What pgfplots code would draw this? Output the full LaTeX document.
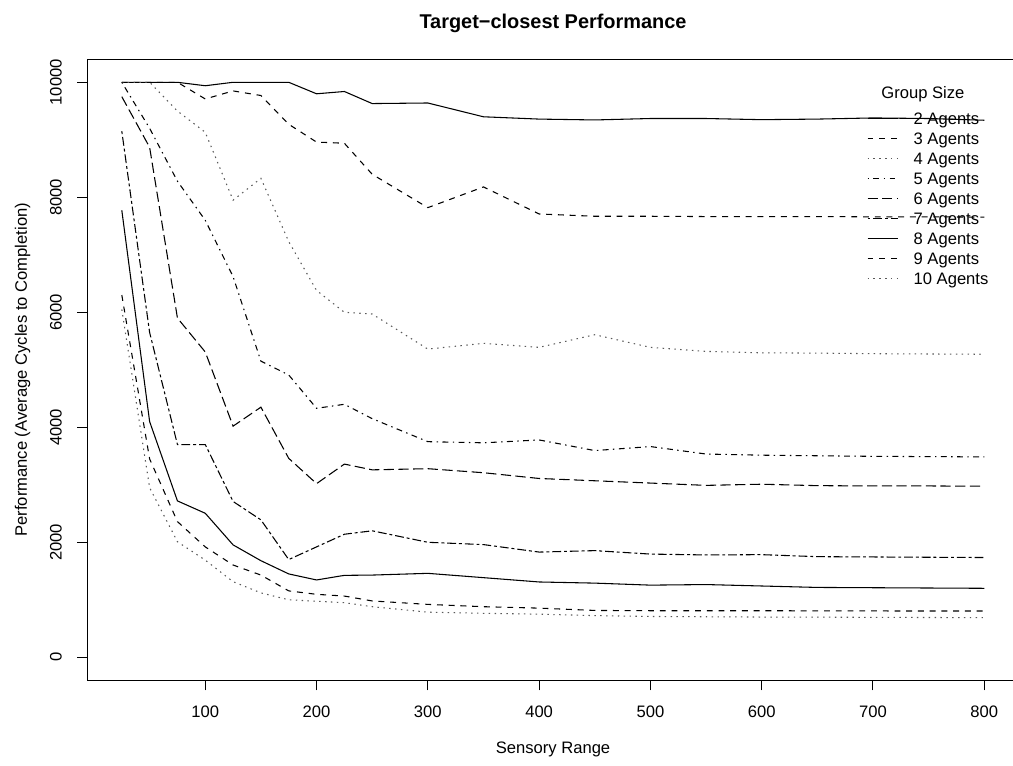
\documentclass[border=0pt]{standalone}
\usepackage{fontspec}
\setmainfont{Liberation Sans}
\usepackage{pgfplots}
\usepackage{pgfplotstable}
\pgfplotsset{compat=1.18}
\pgfplotstableread{
x    a2    a3    a4    a5    a6    a7    a8    a9    a10
25   10000 10000 10000 10000 9750  9150  7775  6300  6050
50   10000 10000 10000 9200  8870  5650  4100  3450  2950
75   10000 10000 9500  8280  5900  3700  2720  2360  2010
100  9940  9710  9130  7600  5310  3700  2505  1920  1690
125  10000 9850  7950  6620  4020  2710  1955  1605  1315
150  10000 9770  8330  5150  4350  2390  1680  1430  1120
175  10000 9270  7230  4910  3460  1700  1450  1155  1000
200  9800  8960  6380  4330  3020  1920  1345  1095  975
225  9840  8940  6000  4400  3360  2140  1425  1065  950
250  9630  8400  5970  4150  3260  2200  1430  980   880
300  9640  7820  5360  3750  3280  2000  1460  920   785
350  9400  8180  5460  3730  3210  1960  1385  880   765
400  9360  7710  5390  3780  3110  1830  1310  855   750
450  9345  7670  5610  3595  3070  1855  1290  815   725
500  9370  7670  5390  3665  3030  1795  1255  810   710
550  9370  7665  5320  3535  2990  1780  1265  810   705
600  9350  7665  5295  3515  3010  1785  1240  810   700
650  9360  7665  5290  3505  2985  1750  1215  808   698
700  9380  7660  5280  3495  2980  1745  1210  806   695
750  9370  7660  5275  3490  2980  1740  1205  805   692
800  9340  7655  5270  3485  2975  1735  1200  805   690
}\data
\newcommand{\basefont}{\fontsize{12.45}{15}\selectfont}
\pgfplotsset{
  lty1/.style={solid},
  lty2/.style={dash pattern=on 4.4pt off 4.4pt},
  lty3/.style={dash pattern=on 1.1pt off 3.3pt, black!65},
  lty4/.style={dash pattern=on 1.1pt off 3.3pt on 4.4pt off 3.3pt},
  lty5/.style={dash pattern=on 7.7pt off 3.3pt},
  lty6/.style={dash pattern=on 2.2pt off 2.2pt on 6.6pt off 2.2pt},
}
\begin{document}
\begin{tikzpicture}[font=\basefont]
\begin{axis}[
  width=698.6pt, height=465.75pt, scale only axis,
  xmin=-6, xmax=831, ymin=-400, ymax=10400,
  xtick={100,200,...,800}, ytick={0,2000,...,10000},
  tick align=outside, xtick pos=left, ytick pos=left,
  major tick length=7.5pt,
  tick style={line width=0.75pt, black},
  axis line style={line width=0.75pt},
  clip=false,
  scaled ticks=false,
  /pgf/number format/1000 sep={},
  /pgf/number format/assume math mode=true,
  tick label style={font=\basefont, inner sep=0pt, outer sep=0pt},
  xticklabel style={anchor=north},
  yticklabel style={rotate=90, anchor=south},
  xticklabel shift=11.6pt, yticklabel shift=11.55pt,
  every axis plot/.append style={line width=0.8pt, black},
  legend cell align=left,
  legend image code/.code={\draw[#1] (0pt,0pt) -- (22.5pt,0pt); \path (34.2pt,0pt);},
  legend style={draw=none, fill=none, inner sep=0pt, outer sep=0pt,
    row sep=0pt, column sep=0pt, font=\basefont,
    nodes={inner sep=0pt, text height=11.95pt, text depth=3.05pt},
    at={(axis cs:694.6,9548)}, anchor=north west},
]
\addplot[lty1] table[x=x,y=a2] {\data};
\addlegendentry{2 Agents}
\addplot[lty2] table[x=x,y=a3] {\data};
\addlegendentry{3 Agents}
\addplot[lty3] table[x=x,y=a4] {\data};
\addlegendentry{4 Agents}
\addplot[lty4] table[x=x,y=a5] {\data};
\addlegendentry{5 Agents}
\addplot[lty5] table[x=x,y=a6] {\data};
\addlegendentry{6 Agents}
\addplot[lty6] table[x=x,y=a7] {\data};
\addlegendentry{7 Agents}
\addplot[lty1] table[x=x,y=a8] {\data};
\addlegendentry{8 Agents}
\addplot[lty2] table[x=x,y=a9] {\data};
\addlegendentry{9 Agents}
\addplot[lty3] table[x=x,y=a10] {\data};
\addlegendentry{10 Agents}
\node[anchor=base, font=\bfseries\fontsize{14.94}{18}\selectfont] at (axis cs:412.5,10936) {Target−closest Performance};
\node[anchor=base] at (axis cs:412.5,-1680) {Sensory Range};
\node[anchor=base, rotate=90] at (axis cs:-60.3,5000) {Performance (Average Cycles to Completion)};
\node[anchor=base] at (axis cs:744.9,9723) {Group Size};
\end{axis}
\pgfresetboundingbox
\path[use as bounding box] ([xshift=-65.475pt,yshift=-64.275pt]current axis.south west) rectangle ++(759.75pt,574.5pt);
\end{tikzpicture}
\end{document}
